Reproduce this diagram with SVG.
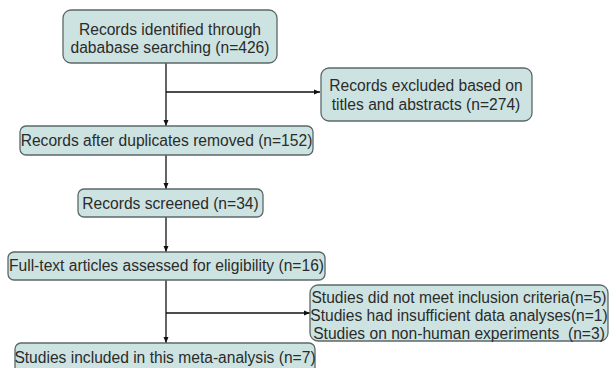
<svg xmlns="http://www.w3.org/2000/svg" width="609" height="368" viewBox="0 0 609 368">
<style>
.box{fill:#cde3e1;stroke:#5b6868;stroke-width:1.3}
.t{font-family:"Liberation Sans",Arial,sans-serif;font-size:15.6px;fill:#2b2b2b;text-anchor:middle}
.c{stroke:#111;stroke-width:1.3;fill:none}
</style>
<defs>
<marker id="ah" viewBox="0 0 6 6" refX="6" refY="3" markerWidth="6" markerHeight="6" markerUnits="userSpaceOnUse" orient="auto">
<path d="M0,0.5 L6,3 L0,5.5 Z" fill="#111"/>
</marker>
</defs>
<rect width="609" height="368" fill="#fff"/>
<g id="connectors">
<line class="c" x1="166" y1="63" x2="166" y2="126" marker-end="url(#ah)"/>
<line class="c" x1="166" y1="92" x2="320" y2="92" marker-end="url(#ah)"/>
<line class="c" x1="166" y1="155" x2="166" y2="189" marker-end="url(#ah)"/>
<line class="c" x1="166" y1="217" x2="166" y2="252" marker-end="url(#ah)"/>
<line class="c" x1="166" y1="280" x2="166" y2="343" marker-end="url(#ah)"/>
<line class="c" x1="166" y1="313" x2="310" y2="313" marker-end="url(#ah)"/>
</g>
<g id="identified">
<rect class="box" x="63" y="10" width="214" height="53" rx="8"/>
<text class="t" x="170" y="35">Records identified through</text>
<text class="t" x="170" y="53">dababase searching (n=426)</text>
</g>
<g id="excluded">
<rect class="box" x="321" y="68" width="211" height="53" rx="8"/>
<text class="t" x="426" y="91">Records excluded based on</text>
<text class="t" x="426" y="110">titles and abstracts (n=274)</text>
</g>
<g id="duplicates">
<rect class="box" x="20" y="126" width="293" height="29" rx="6"/>
<text class="t" x="166.5" y="146">Records after duplicates removed (n=152)</text>
</g>
<g id="screened">
<rect class="box" x="78" y="189" width="185" height="28" rx="6"/>
<text class="t" x="170.5" y="209">Records screened (n=34)</text>
</g>
<g id="fulltext">
<rect class="box" x="8" y="252" width="317" height="28" rx="6"/>
<text class="t" x="166.5" y="271">Full-text articles assessed for eligibility (n=16)</text>
</g>
<g id="exclusions">
<rect class="box" x="310" y="285" width="298" height="56" rx="8"/>
<text class="t" x="459" y="303">Studies did not meet inclusion criteria(n=5)</text>
<text class="t" x="459" y="321">Studies had insufficient data analyses(n=1)</text>
<text class="t" x="459" y="339" style="white-space:pre">Studies on non-human experiments  (n=3)</text>
</g>
<g id="included">
<rect class="box" x="15" y="343" width="300" height="32" rx="6"/>
<text class="t" x="165" y="363">Studies included in this meta-analysis (n=7)</text>
</g>
</svg>
